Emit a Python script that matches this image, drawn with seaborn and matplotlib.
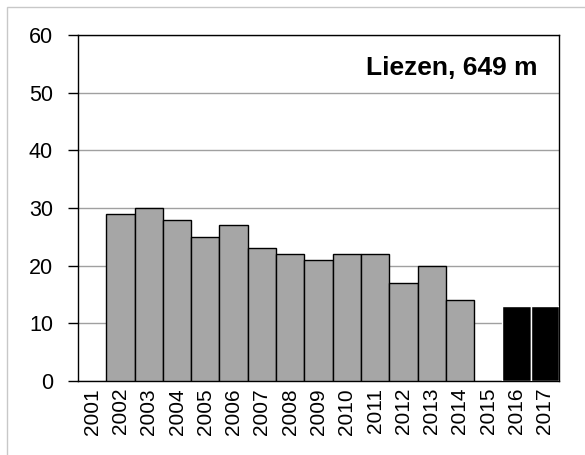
import matplotlib
matplotlib.use("Agg")
import matplotlib.pyplot as plt
import matplotlib.patches as mpatches
import numpy as np
import pandas as pd
import seaborn as sns

years = [str(y) for y in range(2001, 2018)]
values = [np.nan, 29, 30, 28, 25, 27, 23, 22, 21, 22, 22, 17, 20, 14, np.nan, 13, 13]
kind = ["obs"] * 15 + ["new"] * 2
yticks = [0, 10, 20, 30, 40, 50, 60]
title = "Liezen, 649 m"

bar_colors = {"obs": "#a6a6a6", "new": "#000000"}


def main():
    sns.set_style("white")
    plt.rcParams["font.family"] = ["Liberation Sans", "DejaVu Sans"]
    plt.rcParams["text.color"] = "black"
    plt.rcParams["xtick.color"] = "black"
    plt.rcParams["ytick.color"] = "black"

    data = pd.DataFrame({"year": years, "value": values, "kind": kind})

    fig = plt.figure(figsize=(5.85, 4.55), dpi=100)
    ax = fig.add_axes([78 / 585, 1 - 381 / 455, (559 - 78) / 585, (381 - 35) / 455])

    sns.barplot(data=data, x="year", y="value", hue="kind", order=years,
                palette=bar_colors, width=1.0, dodge=False, legend=False,
                linewidth=1, edgecolor="black", ax=ax, zorder=3)

    # black bars get white outlines, grey ones black
    for patch in ax.patches:
        fc = patch.get_facecolor()
        patch.set_edgecolor("white" if fc[0] < 0.1 else "black")

    ax.set_xlim(-0.5, len(years) - 0.5)
    ax.set_ylim(0, 60)
    ax.set_yticks(yticks)
    ax.set_yticklabels([str(t) for t in yticks], fontsize=15.5)
    ax.yaxis.grid(True, color="#a0a0a0", linewidth=1, zorder=0)
    ax.set_axisbelow(True)

    ax.set_xticks(range(len(years)))
    ax.set_xticklabels(years, rotation=90, fontsize=15)
    ax.tick_params(axis="x", length=0, pad=5)
    ax.set_xticks(np.arange(-0.5, len(years)), minor=True)
    ax.tick_params(axis="x", which="minor", length=7, color="#555555", width=1)
    ax.tick_params(axis="y", length=7, color="black", width=1, left=True, pad=11)

    for s in ax.spines.values():
        s.set_color("black")
        s.set_linewidth(1)
        s.set_visible(True)

    ax.set_xlabel("")
    ax.set_ylabel("")
    ax.text(0.955, 0.905, title, transform=ax.transAxes, ha="right", va="center",
            fontsize=19, fontweight="bold")

    border = mpatches.Rectangle((7 / 585, -0.1), 1.2, 1 - 7 / 455 + 0.1,
                                transform=fig.transFigure, fill=False,
                                edgecolor="#c8c8c8", linewidth=1)
    fig.patches.append(border)

    fig.savefig("out.png", dpi=100)


if __name__ == "__main__":
    main()
